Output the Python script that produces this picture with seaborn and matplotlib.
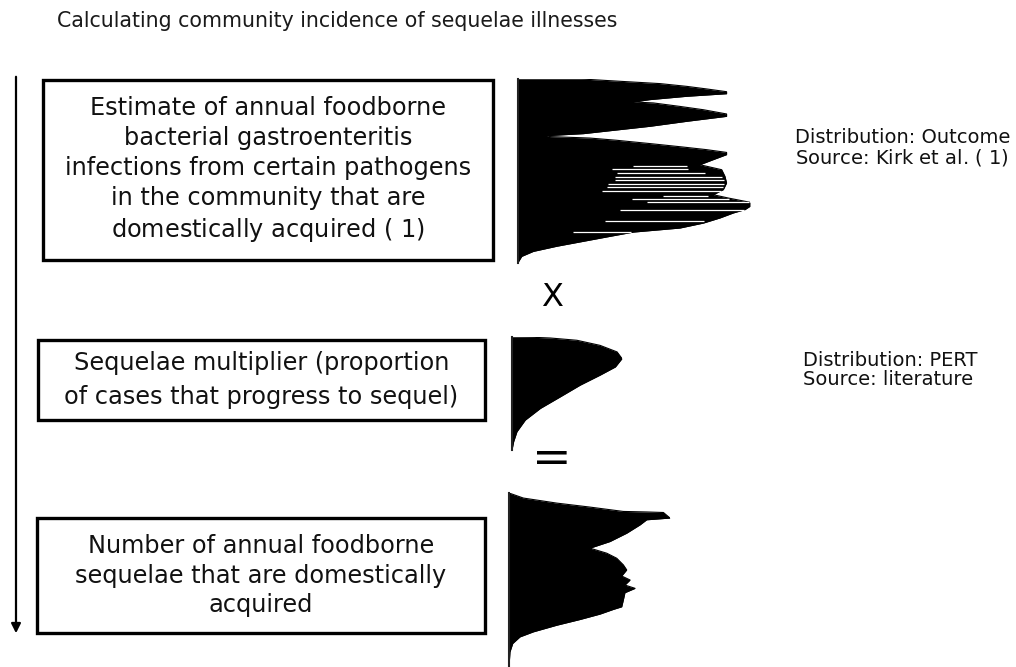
import matplotlib
matplotlib.use('Agg')
import matplotlib.pyplot as plt
from matplotlib.patches import Rectangle
import seaborn as sns

# --- data (position from top 0-100, relative frequency 0-100) ---
dist1_pos = [0, 0, 1.3, 2.5, 4.0, 5.4, 6.9, 8.0, 9.4, 11.2, 12.5, 13.0, 14.9, 16.7, 19.0, 20.3,
             23.0, 25.7, 27.9, 29.7, 30.8, 31.3, 32.1, 33.3, 35.1, 37.0, 38.4, 39.9, 41.1, 43.8,
             46.6, 49.3, 52.9, 56.5, 60.1, 62.9, 64.7, 67.0, 69.2, 71.0, 72.8, 75.5, 78.3, 81.0,
             83.2, 85.5, 88.2, 90.9, 93.7, 96.4, 99.1, 100]
dist1_freq = [0, 27.4, 44.7, 61.2, 72.7, 81.3, 89.9, 89.9, 72.7, 56.9, 49.7, 58.3, 69.8, 79.9, 89.9, 89.9,
              72.7, 56.9, 41.1, 28.2, 12.4, 13.8, 31.0, 42.5, 56.9, 71.3, 81.3, 89.9, 89.9, 84.2,
              78.4, 87.8, 89.2, 89.9, 88.5, 84.2, 90.7, 100, 100, 97.8, 92.8, 87.1, 79.9, 69.8,
              49.7, 39.7, 28.2, 16.7, 6.6, 1.6, 0.3, 0]
# short bars inside the outcome histogram (white gaps)
gap_pos = [47.5, 48.9, 51.1, 53.3, 55.1, 56.9, 58.7, 60.7, 63.4, 65.0, 66.8, 71.4, 77.4, 83.2]
gap_start = [49.7, 40.4, 42.5, 41.8, 41.8, 38.9, 38.2, 36.1, 62.6, 49.0, 55.5, 44.0, 37.5, 23.9]
gap_end = [72.7, 73.4, 80.6, 87.8, 88.8, 88.8, 88.2, 87.4, 82.0, 91.1, 99.7, 97.4, 80.2, 48.6]

dist2_pos = [0, 0.3, 0.9, 2.9, 7.4, 13.2, 19.1, 26.5, 33.8, 42.6, 52.9, 63.2, 73.5, 83.8, 92.6, 98.5, 100]
dist2_freq = [0, 20, 35, 59, 80, 95.5, 100, 94, 80, 62, 44, 25.8, 12.1, 4.5, 1.5, 0.3, 0]

dist3_pos = [0, 2.9, 5.8, 8.1, 10.6, 10.9, 11.2, 14.4, 15.4, 18.3, 23.1, 27.9, 31.7, 34.6, 37.5,
             41.3, 44.2, 47.7, 50.0, 52.9, 54.8, 57.3, 61.5, 65.4, 66.9, 69.6, 72.7, 76.0, 79.8,
             82.7, 86.5, 91.3, 100]
dist3_freq = [0, 8.9, 29.6, 50.3, 71.0, 85.5, 95.9, 100, 85.5, 81.4, 73.1, 62.7, 50.3, 60.7, 66.9,
              71.0, 73.1, 70.0, 75.2, 72.0, 78.3, 72.0, 71.0, 70.0, 64.8, 56.5, 44.1, 29.6, 15.1,
              6.8, 2.3, 0.6, 0]

box_texts = ["Estimate of annual foodborne\nbacterial gastroenteritis\ninfections from certain pathogens\n"
             "in the community that are\ndomestically acquired ( $\\mathit{1}$)",
             "Sequelae multiplier (proportion\nof cases that progress to sequel)",
             "Number of annual foodborne\nsequelae that are domestically\nacquired"]
side_texts = ["Distribution: Outcome\nSource: Kirk et al. ( $\\mathit{1}$)",
              "Distribution: PERT\nSource: literature"]
title = "Calculating community incidence of sequelae illnesses"

sns.set_theme(style='white')
plt.rcParams['font.family'] = ['DejaVu Sans']
plt.rcParams['mathtext.fontset'] = 'dejavusans'

W, H = 1016, 667
fig = plt.figure(figsize=(W / 100, H / 100), dpi=100)
fig.patch.set_facecolor('white')


def px_axes(left, top, width, height):
    return fig.add_axes([left / W, 1 - (top + height) / H, width / W, height / H])


# base layer in pixel units for boxes and text
ax = px_axes(0, 0, W, H)
ax.set_xlim(0, W)
ax.set_ylim(H, 0)
ax.axis('off')

ax.text(57, 21, title, fontsize=14.8, color='#1a1a1a', va='center', ha='left')

boxes = [(43, 80, 450, 180), (38, 340, 447, 80), (37, 518, 448, 115)]
spacing = [1.31, 1.48, 1.27]
for (x, y, w, h), txt, ls in zip(boxes, box_texts, spacing):
    ax.add_patch(Rectangle((x, y), w, h, fill=False, edgecolor='black', lw=2.4))
    ax.text(x + w / 2, y + h / 2, txt, fontsize=17.3, color='#111111', ha='center', va='center',
            multialignment='center', linespacing=ls)

ax.text(795, 148, side_texts[0], fontsize=14, color='#111111', ha='left', va='center',
        multialignment='left', linespacing=1.05)
ax.text(803, 370, side_texts[1], fontsize=14, color='#111111', ha='left', va='center',
        multialignment='left', linespacing=1.05)

ax.text(552, 297, "X", fontsize=23, color='black', ha='center', va='center')
ax.text(552, 460, "=", fontsize=34, color='black', ha='center', va='center')

ax.annotate("", xy=(16, 636), xytext=(16, 74),
            arrowprops=dict(arrowstyle='-|>', color='black', lw=1.6, mutation_scale=14))


def draw_dist(rect, pos, freq):
    dax = px_axes(*rect)
    dax.fill_betweenx(pos, 0, freq, color='black', lw=0)
    sns.lineplot(x=freq, y=pos, sort=False, estimator=None, orient='y', color='black', lw=0.8, ax=dax)
    dax.set_xlim(0, 100)
    dax.set_ylim(100, 0)
    dax.set_xticks([])
    dax.set_yticks([])
    dax.set_xlabel('')
    dax.set_ylabel('')
    dax.patch.set_alpha(0)
    for s in ['top', 'right', 'bottom']:
        dax.spines[s].set_visible(False)
    dax.spines['left'].set_color('#222222')
    dax.spines['left'].set_linewidth(1.5)
    return dax


d1 = draw_dist((518, 79, 232, 184), dist1_pos, dist1_freq)
d1.hlines(gap_pos, gap_start, gap_end, colors='white', lw=0.9)
draw_dist((512, 337, 110, 113), dist2_pos, dist2_freq)
draw_dist((509, 493, 161, 174), dist3_pos, dist3_freq)

fig.savefig('out.png', dpi=100, facecolor='white')
